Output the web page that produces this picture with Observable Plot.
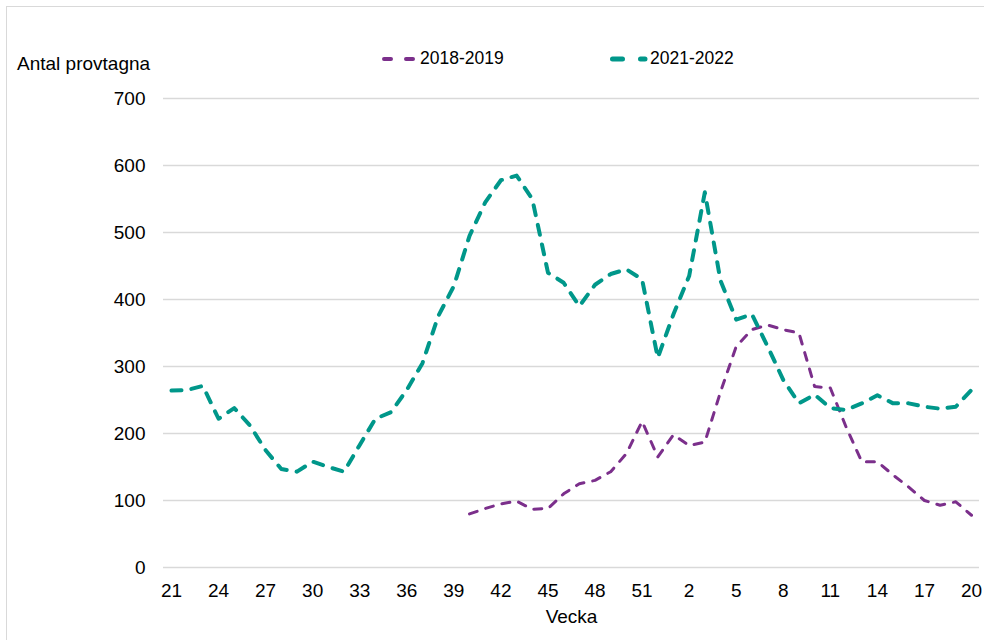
<!DOCTYPE html>
<html><head><meta charset="utf-8">
<script src="https://cdn.jsdelivr.net/npm/d3@7"></script>
<script src="https://cdn.jsdelivr.net/npm/@observablehq/plot@0.6"></script>
<style>
body{margin:0;background:#fff;font-family:"Liberation Sans",Arial,sans-serif;}
#wrap{position:relative;width:984px;height:640px;overflow:hidden;background:#fff;}
#frame{position:absolute;left:6px;top:6px;width:1000px;height:700px;border:1px solid #d9d9d9;box-sizing:border-box;pointer-events:none;}
#head{position:relative;height:80px;}
#ylab{position:absolute;left:17px;top:53px;font-size:19px;line-height:22px;color:#000;white-space:nowrap;}
.leg{position:absolute;top:48px;height:21px;font-size:17.5px;line-height:21px;color:#000;display:flex;align-items:center;white-space:nowrap;}
.leg svg{margin-right:2px;}
#chart svg{display:block;}
</style>
</head><body>
<div id="wrap">
  <div id="frame"></div>
  <div id="head">
    <div id="ylab">Antal provtagna</div>
    <div class="leg" id="leg1" style="left:380px"></div>
    <div class="leg" id="leg2" style="left:610px"></div>
  </div>
  <div id="chart"></div>
</div>
<script>
const weeks = [21,22,23,24,25,26,27,28,29,30,31,32,33,34,35,36,37,38,39,40,41,42,43,44,45,46,47,48,49,50,51,52,1,2,3,4,5,6,7,8,9,10,11,12,13,14,15,16,17,18,19,20];
const season2021 = [264,265,271,222,238,212,175,147,143,158,150,143,183,222,232,265,305,375,420,495,545,578,585,550,440,425,390,422,438,445,430,313,378,435,560,428,370,378,330,280,245,258,238,235,245,257,245,245,240,237,240,265];
const season2018 = [null,null,null,null,null,null,null,null,null,null,null,null,null,null,null,null,null,null,null,80,88,95,99,87,88,110,125,130,143,170,218,165,198,182,187,262,330,355,362,355,350,270,268,210,158,158,138,120,100,93,98,78];
const yTicks = [0,100,200,300,400,500,600,700];
const xTickLabels = [21,24,27,30,33,36,39,42,45,48,51,2,5,8,11,14,17,20];
const seriesNames = ["2018-2019","2021-2022"];
const colors = ["#7b2f8b","#00978a"];

const rows = vals => weeks.map((w, i) => ({week: String(w), value: vals[i]}));

const chart = Plot.plot({
  width: 984,
  height: 560,
  marginLeft: 163,
  marginRight: 5,
  marginTop: 18,
  marginBottom: 73,
  style: {fontFamily: "'Liberation Sans', Arial, sans-serif", fontSize: "19px", color: "#000", background: "transparent", overflow: "visible"},
  x: {type: "point", domain: weeks.map(String), padding: 0.51, ticks: xTickLabels.map(String), tickSize: 0, tickPadding: 16, label: "Vecka", labelAnchor: "center", labelOffset: 55},
  y: {domain: [0, 700], ticks: yTicks, tickSize: 0, tickPadding: 18, label: null},
  marks: [
    Plot.ruleY(yTicks, {stroke: "#d9d9d9", strokeWidth: 1.5}),
    Plot.line(rows(season2018), {x: "week", y: "value", stroke: colors[0], strokeWidth: 3, strokeDasharray: "8 9", strokeLinecap: "round", strokeLinejoin: "round"}),
    Plot.line(rows(season2021), {x: "week", y: "value", stroke: colors[1], strokeWidth: 4, strokeDasharray: "10 10", strokeLinecap: "round", strokeLinejoin: "round"})
  ]
});
document.getElementById("chart").appendChild(chart);

function legendItem(el, color, w, dash, x1, x2, name) {
  el.innerHTML = `<svg width="38" height="10"><line x1="${x1}" x2="${x2}" y1="5" y2="5" stroke="${color}" stroke-width="${w}" stroke-dasharray="${dash}" stroke-linecap="round"/></svg><span>${name}</span>`;
}
legendItem(document.getElementById("leg1"), colors[0], 4, "7 15", 4, 35, seriesNames[0]);
legendItem(document.getElementById("leg2"), colors[1], 5, "10 18", 2.5, 35, seriesNames[1]);
</script>
</body></html>
